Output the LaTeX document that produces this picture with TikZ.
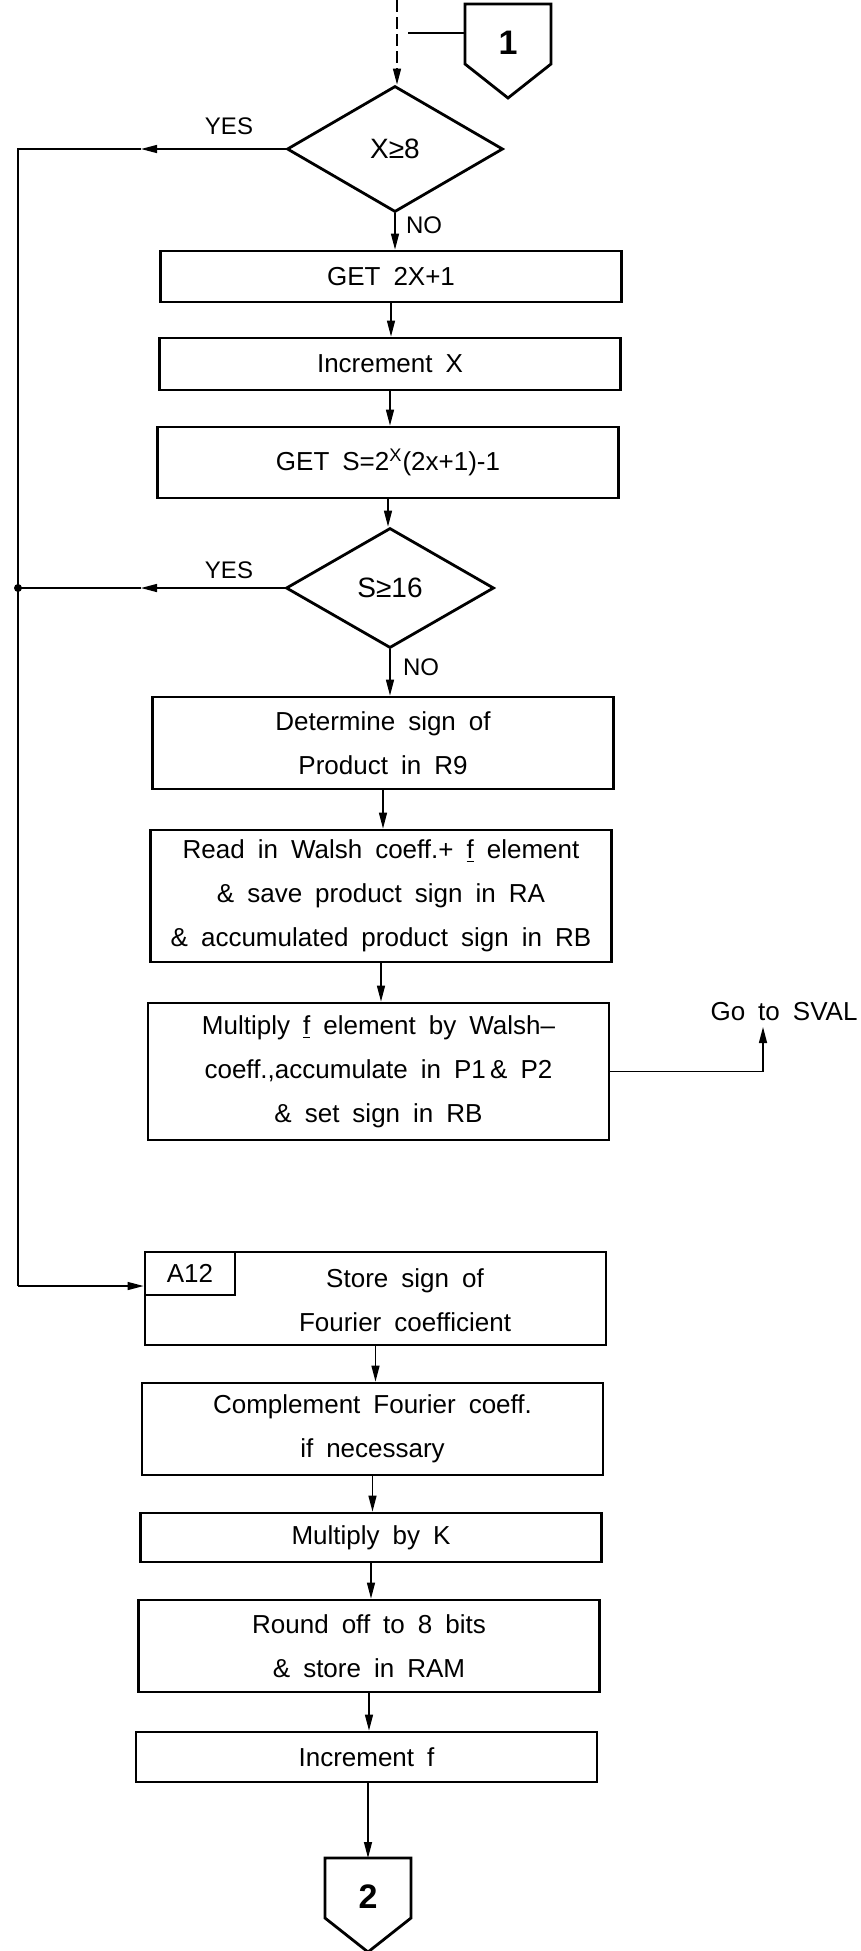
\documentclass[tikz,border=0pt]{standalone}
\usepackage{fontspec}
\setmainfont{Liberation Sans}[WordSpace=1.8]
\usetikzlibrary{arrows.meta,shapes.geometric}
\newcommand{\offpage}[4]{\draw[line width=1.4pt] (#2-43,#3) -- (#2+43,#3) -- (#2+43,#3+60) -- (#2,#3+94) -- (#2-43,#3+60) -- cycle;
\coordinate (#1top) at (#2,#3);\coordinate (#1left) at (#2-43,#3+29);
\node[font=\fontsize{17}{17}\selectfont\bfseries] (#1) at (#2,#3+39) {#4};}

\begin{document}
\begin{tikzpicture}[x=.5pt,y=-.5pt,
  box/.style={draw,line width=1.4pt,minimum width=230.5pt,align=center,font=\fontsize{13}{22}\selectfont},
  test/.style={draw,line width=1.4pt,diamond,inner sep=0pt,font=\fontsize{14}{14}\selectfont},
  wire/.style={line width=.7pt},
  flow/.style={wire,-{Triangle[length=8pt,width=4pt]}},
  lab/.style={font=\fontsize{12}{12}\selectfont}]
\useasboundingbox (0,0) rectangle (861,1951);
\node[test,minimum width=108pt,minimum height=63pt] (dx8) at (395,149) {X≥8};
\node[box,minimum height=25.5pt] (get2x) at (391,276.5) {GET\enspace 2X+1};
\node[box,minimum height=26pt] (incx) at (390,364) {Increment\enspace X};
\node[box,minimum height=35.5pt] (gets) at (388,462.5) {GET\enspace S=2\textsuperscript{X}(2x+1)-1};
\node[test,minimum width=104pt,minimum height=60pt] (ds16) at (390,588) {S≥16};
\node[box,minimum height=46pt] (detsign) at (383,743) {Determine sign of\\Product in R9};
\node[box,minimum height=66pt] (readw) at (381,896) {Read in Walsh coeff.+ \underline{f} element\\\& save product sign in RA\\\& accumulated product sign in RB};
\node[box,minimum height=68.5pt] (multf) at (378.5,1071.5) {Multiply \underline{f} element by Walsh--\\coeff.,accumulate in P1\,\& P2\\\& set sign in RB};
\node[box,minimum height=46.5pt] (store) at (375.5,1298.5) {};
\node[box,minimum width=45pt,minimum height=21.5pt,anchor=north west] (a12) at (store.north west) {A12};
\node[align=center,font=\fontsize{13}{22}\selectfont] (storetxt) at (405,1300) {Store sign of\\Fourier coefficient};
\node[box,minimum height=46pt] (compl) at (372.5,1429) {Complement\enspace Fourier coeff.\\if necessary};
\node[box,minimum height=24.5pt] (multk) at (371,1537.5) {Multiply by\enspace K};
\node[box,minimum height=46pt] (round) at (369,1646) {Round off to 8 bits\\\& store in RAM};
\node[box,minimum height=25pt] (incf) at (366.5,1757) {Increment\enspace f};
\offpage{cone}{508}{4}{1}
\offpage{ctwo}{368}{1858}{2}
\node[lab] (yes1) at (229,126) {YES};\node[lab] (no1) at (424,225) {NO};
\node[lab] (yes2) at (229,570) {YES};\node[lab] (no2) at (421,667) {NO};
\node[font=\fontsize{13}{13}\selectfont] (sval) at (784,1012) {Go to SVAL};
\coordinate (dash0) at (397,0);\coordinate (c1end) at (408,33);
\coordinate (yes1arr) at (141,149);\coordinate (lft1) at (18,149);
\coordinate (yes2arr) at (141,588);\coordinate (jn) at (18,588);
\coordinate (lft2) at (18,1286);\coordinate (svalarr) at (763,1027);
\draw[flow,dash pattern=on 6pt off 2.5pt] (dash0) -- (dash0 |- dx8.north);
\draw[wire] (coneleft) -- (c1end);
\draw[flow] (dx8.south) -- (dx8.south |- get2x.north);\draw[flow] (get2x.south) -- (get2x.south |- incx.north);
\draw[flow] (incx.south) -- (incx.south |- gets.north);\draw[flow] (gets.south) -- (gets.south |- ds16.north);
\draw[flow] (ds16.south) -- (ds16.south |- detsign.north);\draw[flow] (detsign.south) -- (detsign.south |- readw.north);
\draw[flow] (readw.south) -- (readw.south |- multf.north);
\draw[flow] (store.south) -- (store.south |- compl.north);\draw[flow] (compl.south) -- (compl.south |- multk.north);
\draw[flow] (multk.south) -- (multk.south |- round.north);\draw[flow] (round.south) -- (round.south |- incf.north);
\draw[flow] (ctwotop |- incf.south) -- (ctwotop);
\draw[flow] (dx8.west) -- (yes1arr);\draw[wire] (yes1arr) -- (lft1) -- (lft2);
\draw[flow] (ds16.west) -- (yes2arr);\draw[wire] (yes2arr) -- (jn);\fill (jn) circle (2pt);
\draw[flow] (lft2) -- (lft2 -| store.west);
\draw[flow] (multf.east) -| (svalarr);
\end{tikzpicture}
\end{document}
